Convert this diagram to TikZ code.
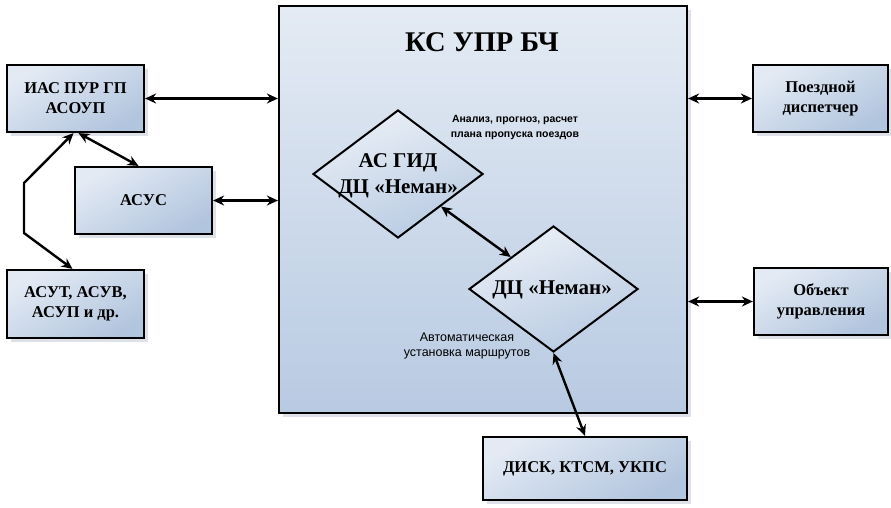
\documentclass[tikz,border=0pt]{standalone}
\usepackage{fontspec}
\setmainfont{Liberation Serif}
\newfontfamily\lsans{Liberation Sans}
\usetikzlibrary{shapes.geometric,arrows.meta,shadows,calc}
\definecolor{blight}{HTML}{E3EAF4}
\definecolor{bdark}{HTML}{B2C5DE}
\definecolor{mlight}{HTML}{E4EBF4}
\definecolor{mdark}{HTML}{B8CAE2}
\definecolor{shadowc}{HTML}{C8CED8}
\begin{document}
\begin{tikzpicture}[x=1pt,y=-1pt,
  myshadow/.style={drop shadow={shadow xshift=4pt,shadow yshift=-4pt,fill=shadowc,opacity=0.6}},
  box/.style={draw=black,line width=2.2pt,rectangle,top color=blight,bottom color=bdark,
    shading angle=30,inner sep=0pt,align=center,myshadow,
    font=\bfseries\fontsize{16.5}{20}\selectfont},
  mainbox/.style={draw=black,line width=2.2pt,rectangle,top color=mlight,bottom color=mdark,
    inner sep=0pt,myshadow},
  dia/.style={draw=black,line width=2pt,diamond,inner sep=0pt,top color=mlight!80!white,bottom color=mdark,
    shading angle=20},
  ditext/.style={font=\bfseries\fontsize{21}{26}\selectfont,align=center,inner sep=0pt},
  smalltext/.style={align=center,inner sep=0pt},
  biarrow/.style={line width=2.4pt,{Stealth[length=11pt,width=10pt]}-{Stealth[length=11pt,width=10pt]}},
]
\useasboundingbox (0,0) rectangle (891,507);

% main box
\node[mainbox,minimum width=408pt,minimum height=407pt] (main) at (483,209.5) {};
\node[font=\bfseries\fontsize{28.5}{30}\selectfont,inner sep=0pt] (title) at (482,42) {КС УПР БЧ};

% left boxes
\node[box,minimum width=137pt,minimum height=67pt] (ias) at (75.5,98.5) {ИАС ПУР ГП\\АСОУП};
\node[box,minimum width=137pt,minimum height=67pt] (asus) at (143.5,200.5) {АСУС};
\node[box,minimum width=137pt,minimum height=68pt] (asut) at (75.5,304) {АСУТ, АСУВ,\\АСУП и др.};

% right boxes
\node[box,minimum width=135pt,minimum height=67pt] (pd) at (820.5,98.5) {Поездной\\диспетчер};
\node[box,minimum width=134pt,minimum height=67pt] (obj) at (821,301.5) {Объект\\управления};

% bottom box
\node[box,minimum width=204pt,minimum height=63pt] (disk) at (585,468.5) {ДИСК, КТСМ, УКПС};

% diamonds
\node[dia,minimum width=170pt,minimum height=128pt] (d1) at (398,174) {};
\node[ditext] (d1t) at (398,176) {АС ГИД\\ДЦ «Неман»};
\node[dia,minimum width=169pt,minimum height=126pt] (d2) at (553.5,289) {};
\node[ditext] (d2t) at (552,290) {ДЦ «Неман»};

% small labels
\node[smalltext,font=\lsans\bfseries\fontsize{10.5}{15}\selectfont] (lab1) at (515,127) {Анализ, прогноз, расчет\\плана пропуска поездов};
\node[smalltext,font=\lsans\fontsize{12.5}{15}\selectfont] (lab2) at (467,346) {Автоматическая\\установка маршрутов};

% connectors
\draw[biarrow] (ias.east) -- (ias.east -| main.west);
\draw[biarrow] (asus.east) -- (asus.east -| main.west);
\draw[biarrow] (pd.west) -- (pd.west -| main.east);
\draw[biarrow] (obj.west) -- (obj.west -| main.east);
\draw[biarrow] ($(ias.south)+(3,0)$) -- ($(asus.north)+(-5,0)$);
\coordinate (k1) at (24,183);
\coordinate (k2) at (24,233);
\draw[biarrow,line join=round] ($(ias.south)+(-2,0)$) -- (k1) -- (k2) -- ($(asut.north)+(-3,0)$);
\draw[biarrow] (d1.south east) -- (d2.north west);
\draw[biarrow] (d2.south) -- (disk.north);
\end{tikzpicture}
\end{document}
